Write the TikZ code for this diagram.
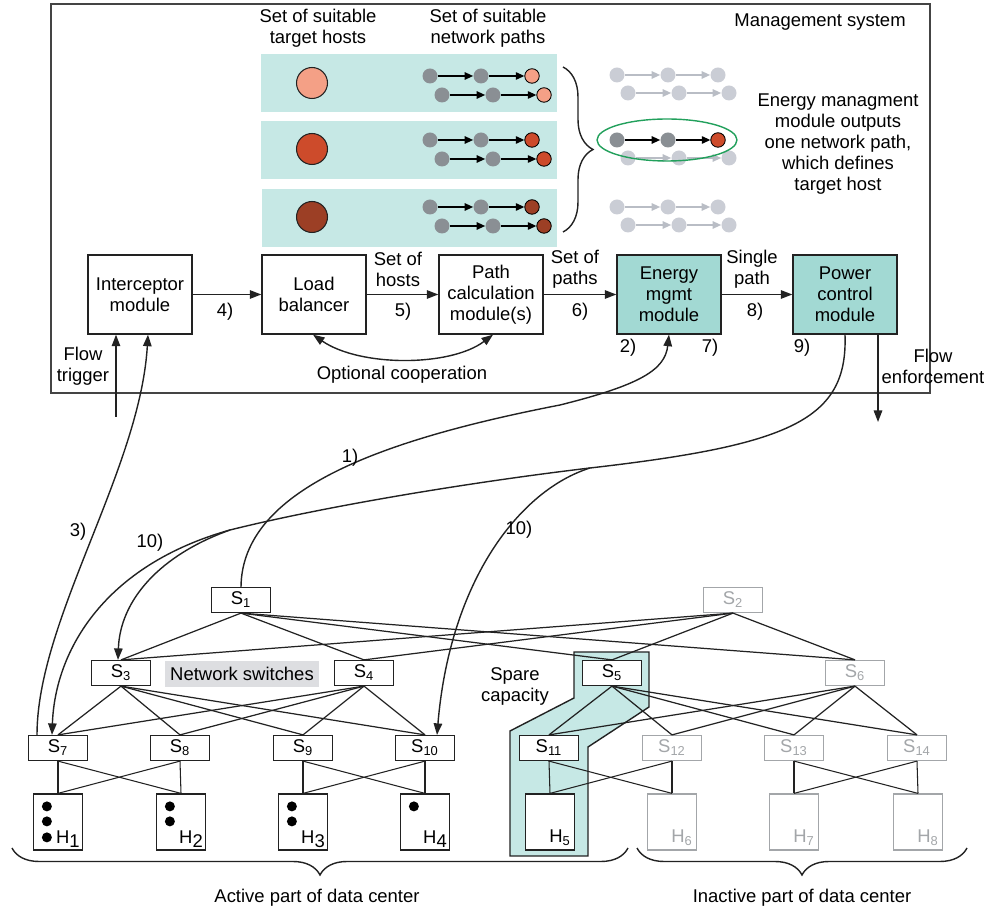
\documentclass[tikz,border=0pt]{standalone}
\usepackage{fontspec}
\setmainfont{Liberation Sans}
\usetikzlibrary{arrows.meta,decorations.pathreplacing,calc,shapes.geometric}

\definecolor{bandc}{HTML}{C6E8E5}
\definecolor{modfill}{HTML}{A2D9D3}
\definecolor{hostA}{HTML}{F4A086}
\definecolor{hostB}{HTML}{CD4B2B}
\definecolor{hostC}{HTML}{9C3F25}
\definecolor{dotgray}{HTML}{8A8F94}
\definecolor{fadegray}{HTML}{CACDD5}
\definecolor{fadearrow}{HTML}{B9BDC5}
\definecolor{ellgreen}{HTML}{22A05C}
\definecolor{offgray}{HTML}{A3A6A9}
\definecolor{labelgray}{HTML}{DDDEE1}
\definecolor{linedark}{HTML}{222222}
\definecolor{framegray}{HTML}{444444}

\begin{document}
\begin{tikzpicture}[x=0.02cm,y=-0.02cm,
 font=\fontsize{10.5}{11.9}\selectfont,
 txt/.style={inner sep=0pt, align=center},
 module/.style={draw=linedark, line width=0.8pt, minimum width=2.08cm, minimum height=1.58cm, align=center, inner sep=0pt},
 tealmod/.style={module, fill=modfill},
 bandbox/.style={fill=bandc, minimum width=5.92cm, minimum height=1.16cm, inner sep=0pt},
 bigdot/.style={circle, draw=linedark, line width=0.6pt, minimum size=0.62cm, inner sep=0pt},
 pdot/.style={circle, fill=dotgray, minimum size=0.3cm, inner sep=0pt},
 edot/.style={circle, draw=black, line width=0.5pt, minimum size=0.29cm, inner sep=0pt},
 fdot/.style={circle, fill=fadegray, minimum size=0.3cm, inner sep=0pt},
 arr/.style={draw=linedark, line width=0.8pt, -{Triangle[length=2.3mm,width=1.7mm]}},
 darr/.style={draw=linedark, line width=0.8pt, {Triangle[length=2.3mm,width=1.7mm]}-{Triangle[length=2.3mm,width=1.7mm]}},
 parr/.style={draw=black, line width=0.7pt, -{Triangle[length=1.7mm,width=1.5mm]}},
 farr/.style={draw=fadearrow, line width=0.7pt, -{Triangle[length=1.7mm,width=1.5mm]}},
 wire/.style={draw=linedark, line width=0.7pt},
 sw/.style={draw=linedark, fill=white, line width=0.7pt, minimum width=1.18cm, minimum height=0.5cm, inner sep=0pt},
 swoff/.style={sw, draw=offgray, text=offgray},
 host/.style={draw=linedark, fill=white, line width=0.7pt, minimum width=0.98cm, minimum height=1.12cm, inner sep=0pt},
 hostoff/.style={host, draw=offgray},
 hdot/.style={circle, fill=black, minimum size=0.2cm, inner sep=0pt},
 brc/.style={draw=linedark, line width=0.8pt, decorate},
]
\useasboundingbox (0,0) rectangle (991,911);

% management frame
\node[draw=framegray, line width=1pt, minimum width=17.58cm, minimum height=7.78cm, inner sep=0pt] (ms) at (490.5,198.5) {};
\node[txt, anchor=east] (mstitle) at (906,22) {Management system};

% headers
\node[txt] (hd1) at (318,28) {Set of suitable\\target hosts};
\node[txt] (hd2) at (488,28) {Set of suitable\\network paths};

% bands
\node[bandbox] (b1) at (409,83) {};
\node[bandbox] (b2) at (409,150) {};
\node[bandbox] (b3) at (409.5,218) {};

\node[bigdot, fill=hostA] (c1) at (312,83) {};
\node[bigdot, fill=hostB] (c2) at (312,149) {};
\node[bigdot, fill=hostC] (c3) at (312,217) {};

\foreach \i/\ya/\yb/\c in {1/76/95/hostA, 2/140/159/hostB, 3/207/226/hostC}{
  \node[pdot] (pa\i1) at (430,\ya) {};
  \node[pdot] (pa\i2) at (481,\ya) {};
  \node[edot, fill=\c] (pa\i3) at (532,\ya) {};
  \draw[parr] (pa\i1) -- (pa\i2);
  \draw[parr] (pa\i2) -- (pa\i3);
  \node[pdot] (pb\i1) at (442,\yb) {};
  \node[pdot] (pb\i2) at (493,\yb) {};
  \node[edot, fill=\c] (pb\i3) at (544,\yb) {};
  \draw[parr] (pb\i1) -- (pb\i2);
  \draw[parr] (pb\i2) -- (pb\i3);
}

% brace
\coordinate (brt) at (563,67);
\coordinate (brb) at (563,232);
\draw[brc, decoration={brace,amplitude=0.6cm}] (brt) -- (brb);

% faded rows
\foreach \k/\x/\y in {1/617/75, 2/628/93, 4/628/158, 5/617/207, 6/628/225}{
  \node[fdot] (f\k1) at (\x,\y) {};
  \node[fdot] (f\k2) at (\x+51,\y) {};
  \node[fdot] (f\k3) at (\x+101,\y) {};
  \draw[farr] (f\k1) -- (f\k2);
  \draw[farr] (f\k2) -- (f\k3);
}
% selected path
\node[pdot] (sel1) at (617,140) {};
\node[pdot] (sel2) at (668,140) {};
\node[edot, fill=hostB] (sel3) at (718,140) {};
\draw[parr] (sel1) -- (sel2);
\draw[parr] (sel2) -- (sel3);
\node[ellipse, draw=ellgreen, line width=0.8pt, minimum width=2.8cm, minimum height=0.84cm, inner sep=0pt] (ell) at (667,140) {};

\node[txt] (emtext) at (838,144) {Energy managment\\module outputs\\one network path,\\which defines\\target host};

% modules
\node[module] (ic) at (140,294.5) {Interceptor\\module};
\node[module] (lb) at (314,294.5) {Load\\balancer};
\node[module] (pc) at (491,294.5) {Path\\calculation\\module(s)};
\node[tealmod] (em) at (669,294.5) {Energy\\mgmt\\module};
\node[tealmod] (pw) at (845,294.5) {Power\\control\\module};

\draw[arr] (ic) -- (lb);
\draw[arr] (lb) -- (pc);
\draw[arr] (pc) -- (em);
\draw[arr] (em) -- (pw);

\node[txt] (l4) at (225,312) {4)};
\node[txt] (lhosts) at (398,269.5) {Set of\\hosts};
\node[txt] (l5) at (403,312) {5)};
\node[txt] (lpaths) at (575,269.5) {Set of\\paths};
\node[txt] (l6) at (580,312) {6)};
\node[txt] (lsingle) at (752,269.5) {Single\\path};
\node[txt] (l8) at (755,312) {8)};
\node[txt] (l2) at (628,348) {2)};
\node[txt] (l7) at (710,348) {7)};
\node[txt] (l9) at (802,348) {9)};

\draw[darr] ([xshift=-0.02cm]lb.south) .. controls (360,367) and (450,367) .. ([xshift=0.04cm]pc.south);
\node[txt] (lopt) at (402,375) {Optional cooperation};

\node[txt] (lft) at (83,366) {Flow\\trigger};
\coordinate (ft) at (116,417);
\draw[arr] (ft) -- (ft |- ic.south);

\node[txt] (lfe) at (933,366) {Flow\\enforcement};
\coordinate (fe) at (878,422);
\draw[arr] (fe |- pw.south) -- (fe);

% spare capacity region
\filldraw[fill=bandc, draw=linedark, line width=0.8pt] (574,652) -- (649,652) -- (649,707) -- (588,747) -- (588,856) -- (510,856) -- (510,731) -- (574,698) -- cycle;
\node[txt] (lspare) at (515,686.5) {Spare\\capacity};
\node[fill=labelgray, minimum width=3.1cm, minimum height=0.52cm, inner sep=0pt] (lns) at (242,674) {Network switches};

% switches
\foreach \n/\x/\y/\st in {1/241/600/sw, 2/733/600/swoff, 3/121/673/sw, 4/364/673/sw, 5/612/673/sw, 6/855/673/swoff, 7/58/748/sw, 8/180/748/sw, 9/303/748/sw, 10/425/748/sw, 11/549/748/sw, 12/672/748/swoff, 13/794/748/swoff, 14/917/748/swoff}
  \node[\st] (s\n) at (\x,\y) {S\textsubscript{\n}};

% hosts
\foreach \n/\x/\st in {1/58/host, 2/181/host, 3/303/host, 4/425/host, 5/550/host, 6/672/hostoff, 7/794/hostoff, 8/918/hostoff}
  \node[\st] (h\n) at (\x,822) {};

\foreach \n in {1,2,3,4}
  \node[txt, anchor=base east] (hl\n) at ($(h\n.south east)+(-3,-7)$) {H\raisebox{-0.45ex}{\n}};
\node[txt, anchor=base east] (hl5) at ($(h5.south east)+(-4,-8)$) {H\textsubscript{5}};
\foreach \n in {6,7,8}
  \node[txt, anchor=base east, text=offgray] (hl\n) at ($(h\n.south east)+(-4,-8)$) {H\textsubscript{\n}};

% host dots
\node[hdot] (d11) at ($(h1.north west)+(14,13)$) {};
\node[hdot] (d12) at ($(h1.north west)+(14,28)$) {};
\node[hdot] (d13) at ($(h1.north west)+(14,44)$) {};
\node[hdot] (d21) at ($(h2.north west)+(14,13)$) {};
\node[hdot] (d22) at ($(h2.north west)+(14,28)$) {};
\node[hdot] (d31) at ($(h3.north west)+(14,13)$) {};
\node[hdot] (d32) at ($(h3.north west)+(14,28)$) {};
\node[hdot] (d41) at ($(h4.north west)+(14,13)$) {};

% switch wiring
\foreach \a in {1,2} \foreach \b in {3,4,5,6} \draw[wire] (s\a.south) -- (s\b.north);
\foreach \a in {3,4} \foreach \b in {7,8,9,10} \draw[wire] (s\a.south) -- (s\b.north);
\foreach \a in {5,6} \foreach \b in {11,12,13,14} \draw[wire] (s\a.south) -- (s\b.north);
\foreach \sa/\sb/\ha/\hb in {7/8/1/2, 9/10/3/4, 11/12/5/6, 13/14/7/8}{
  \foreach \s in {\sa,\sb} \foreach \h in {\ha,\hb} \draw[wire, line width=0.6pt] (s\s.south) -- (h\h.north);
}

% control curves
\draw[arr] (s1.north) .. controls (242,490) and (380,440) .. (560,405) .. controls (640,385) and (665,370) .. (em.south);
\node[txt] (l1) at (350,458) {1)};

\draw[arr] ([xshift=-0.42cm]s7.north) .. controls (37,620) and (140,470) .. ([xshift=0.16cm]ic.south);
\node[txt] (l3) at (78,532) {3)};

\coordinate (sp1) at (590,468);
\coordinate (sp2) at (230,530);
\draw[wire, line width=0.8pt] (pw.south) .. controls (848,420) and (790,445) .. (sp1);
\draw[wire, line width=0.8pt] (sp1) .. controls (480,481) and (330,505) .. (sp2);
\draw[arr] (sp2) .. controls (105,565) and (55,650) .. ([xshift=-0.12cm]s7.north);
\draw[arr] (sp2) .. controls (160,555) and (120,600) .. ([xshift=-0.06cm]s3.north);
\draw[arr] (sp1) .. controls (520,490) and (450,580) .. ([xshift=0.24cm]s10.north);
\node[txt] (l10a) at (150,543) {10)};
\node[txt] (l10b) at (519,530) {10)};

% bottom braces
\coordinate (ba1) at (12,848);
\coordinate (ba2) at (628,848);
\coordinate (bi1) at (637,848);
\coordinate (bi2) at (967,848);
\draw[brc, decoration={brace,mirror,amplitude=0.54cm}] (ba1) -- (ba2);
\draw[brc, decoration={brace,mirror,amplitude=0.54cm}] (bi1) -- (bi2);
\node[txt] (lact) at (317,898) {Active part of data center};
\node[txt] (linact) at (802,898) {Inactive part of data center};
\end{tikzpicture}
\end{document}
